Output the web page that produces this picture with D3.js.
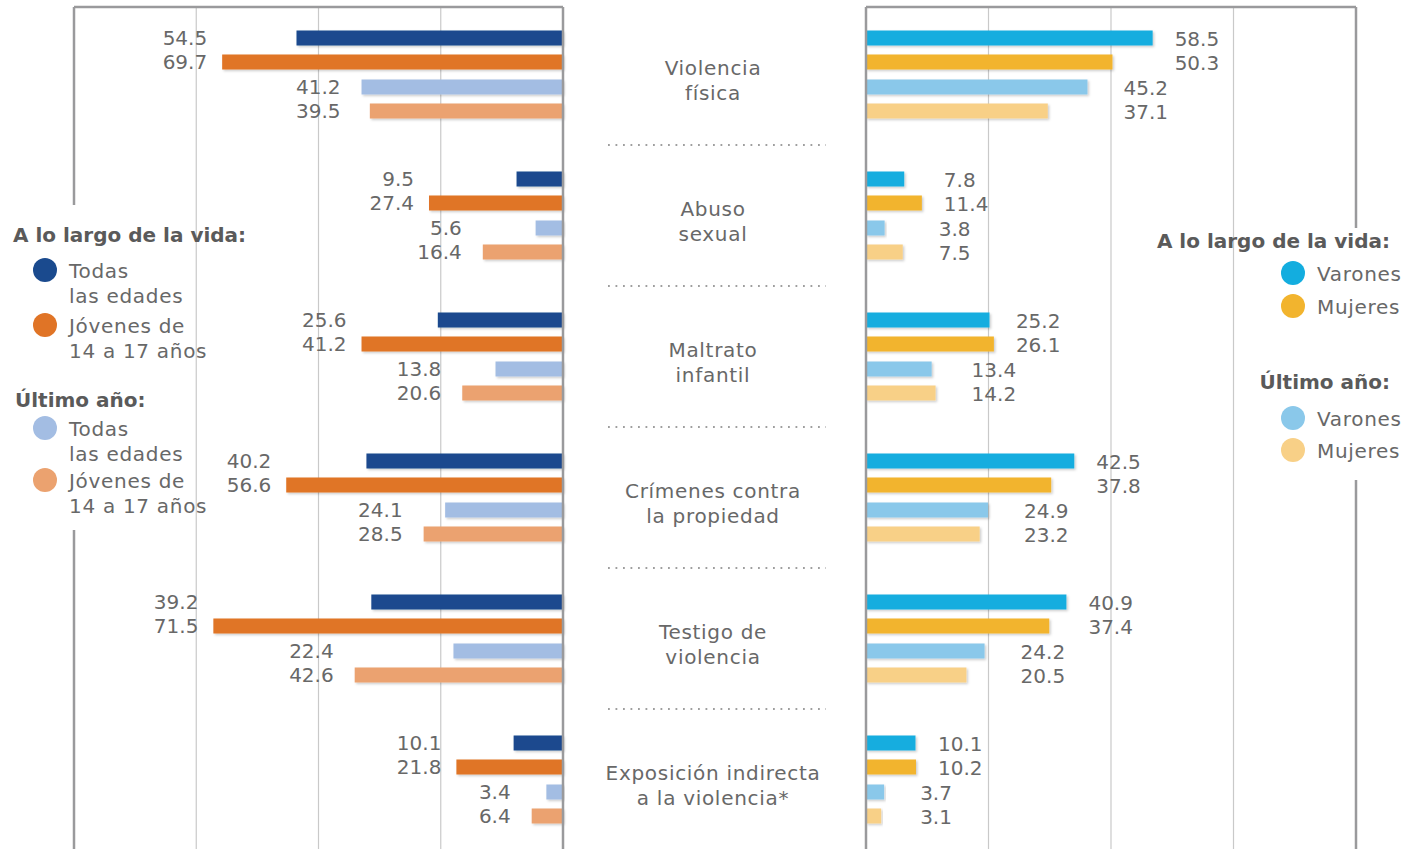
<!DOCTYPE html>
<html>
<head>
<meta charset="utf-8">
<script src="https://cdn.jsdelivr.net/npm/d3@7"></script>
<style>
	body { margin: 0; background: #fff; }
	svg text { font-family: "DejaVu Sans", sans-serif; fill: #686868; }
	svg text.word { letter-spacing: 0.7px; }
</style>
</head>
<body>
<svg id="chart" width="1418" height="849"></svg>
<script>
// categories (two lines each, shown in the middle column)
const categories = [
	[ 'Violencia', 'física' ],
	[ 'Abuso', 'sexual' ],
	[ 'Maltrato', 'infantil' ],
	[ 'Crímenes contra', 'la propiedad' ],
	[ 'Testigo de', 'violencia' ],
	[ 'Exposición indirecta', 'a la violencia*' ]
];

// left panel: por edad
const vidaTodas   = [ 54.5, 9.5, 25.6, 40.2, 39.2, 10.1 ];
const vidaJovenes = [ 69.7, 27.4, 41.2, 56.6, 71.5, 21.8 ];
const anioTodas   = [ 41.2, 5.6, 13.8, 24.1, 22.4, 3.4 ];
const anioJovenes = [ 39.5, 16.4, 20.6, 28.5, 42.6, 6.4 ];

// right panel: por sexo
const vidaVarones = [ 58.5, 7.8, 25.2, 42.5, 40.9, 10.1 ];
const vidaMujeres = [ 50.3, 11.4, 26.1, 37.8, 37.4, 10.2 ];
const anioVarones = [ 45.2, 3.8, 13.4, 24.9, 24.2, 3.7 ];
const anioMujeres = [ 37.1, 7.5, 14.2, 23.2, 20.5, 3.1 ];

const gridTicks = [ 0, 25, 50, 75, 100 ];

const leftSeries = [
	{ values: vidaTodas, color: '#1a4a8e' },
	{ values: vidaJovenes, color: '#e07426' },
	{ values: anioTodas, color: '#a3bde3' },
	{ values: anioJovenes, color: '#eba26f' }
];
const rightSeries = [
	{ values: vidaVarones, color: '#13addf' },
	{ values: vidaMujeres, color: '#f2b42e' },
	{ values: anioVarones, color: '#8ac8ea' },
	{ values: anioMujeres, color: '#f8d087' }
];

const svg = d3.select('#chart');
const yTop = 7, yBottom = 849;

let xL = d3.scaleLinear().domain([ 0, 100 ]).range([ 563, 74 ]);
let xR = d3.scaleLinear().domain([ 0, 100 ]).range([ 866, 1356 ]);
let yGroup = d3.scaleLinear().domain([ 0, 5 ]).range([ 38, 743 ]);
// position of a bar inside its group: pair (vida / año) and member
function barY(g, s) {
	let pair = Math.floor(s / 2), member = s % 2;
	return yGroup(g) + pair * 49 + member * 24;
}

// shadow for bars
let defs = svg.append('defs');
defs.append('filter')
	.attr('id', 'shadow')
	.attr('x', '-5%').attr('y', '-30%').attr('width', '115%').attr('height', '170%')
	.append('feDropShadow')
	.attr('dx', 1.5).attr('dy', 1.5).attr('stdDeviation', 1)
	.attr('flood-color', '#000').attr('flood-opacity', 0.2);

// grid lines (inner)
let grid = svg.append('g');
grid.selectAll('.gl').data(gridTicks.slice(1, 4)).enter().append('line')
	.attr('x1', d => xL(d)).attr('x2', d => xL(d))
	.attr('y1', yTop).attr('y2', yBottom)
	.style('stroke', '#c9c9c9').style('stroke-width', 1.2);
grid.selectAll('.gr').data(gridTicks.slice(1, 4)).enter().append('line')
	.attr('x1', d => xR(d)).attr('x2', d => xR(d))
	.attr('y1', yTop).attr('y2', yBottom)
	.style('stroke', '#c9c9c9').style('stroke-width', 1.2);

// frames
function frameLine(x1, y1, x2, y2) {
	svg.append('line')
		.attr('x1', x1).attr('y1', y1).attr('x2', x2).attr('y2', y2)
		.style('stroke', '#9a9a9c').style('stroke-width', 2.5);
}
frameLine(xL(100), yTop, xL(0), yTop);
frameLine(xL(100), yTop, xL(100), 205);
frameLine(xL(100), 530, xL(100), yBottom);
frameLine(xR(0), yTop, xR(100), yTop);
frameLine(xR(100), yTop, xR(100), 228);
frameLine(xR(100), 480, xR(100), yBottom);

// bars
function drawPanel(series, x, side) {
	let g = svg.append('g');
	series.forEach(function(s, si) {
		g.selectAll('.bar-' + side + si).data(s.values).enter().append('rect')
			.attr('x', d => Math.min(x(0), x(d)))
			.attr('y', (d, i) => barY(i, si) - 7.5)
			.attr('width', d => Math.abs(x(d) - x(0)))
			.attr('height', 15)
			.style('fill', s.color)
			.attr('filter', 'url(#shadow)');
	});
	// value labels
	series.forEach(function(s, si) {
		let pair = Math.floor(si / 2);
		let other = series[pair * 2 + (1 - si % 2)].values;
		g.selectAll('.lab-' + side + si).data(s.values).enter().append('text')
			.attr('x', function(d, i) {
				let m = Math.max(d, other[i]);
				return side == 'L' ? x(m) - (15 + pair * 6) : x(m) + (22 + pair * 14);
			})
			.attr('y', (d, i) => barY(i, si) + (side == 'R' ? 1 : 0))
			.attr('dy', '0.36em')
			.style('text-anchor', side == 'L' ? 'end' : 'start')
			.style('font-size', '20px')
			.text(d => d.toFixed(1));
	});
}
drawPanel(leftSeries, xL, 'L');
drawPanel(rightSeries, xR, 'R');
// frame edges next to the bars
frameLine(xL(0), yTop, xL(0), yBottom);
frameLine(xR(0), yTop, xR(0), yBottom);

// category labels and dotted separators
let mid = svg.append('g');
categories.forEach(function(c, i) {
	let cy = yGroup(i) + 36.5;
	c.forEach(function(line, k) {
		mid.append('text')
			.attr('class', 'word')
			.attr('x', 713).attr('y', cy - 7 + k * 25)
			.attr('dy', '0.36em')
			.style('text-anchor', 'middle')
			.style('font-size', '20px')
			.text(line);
	});
	if (i < categories.length - 1) {
		mid.append('line')
			.attr('x1', 608).attr('x2', 826)
			.attr('y1', yGroup(i) + 107).attr('y2', yGroup(i) + 107)
			.style('stroke', '#9e9e9e')
			.style('stroke-width', 1.8)
			.style('stroke-dasharray', '1.8,5.7');
	}
});

// legends
function legendTitle(x, y, text, anchor) {
	svg.append('text')
		.attr('x', x).attr('y', y)
		.attr('dy', '0.36em')
		.style('text-anchor', anchor)
		.style('font-size', '20px')
		.style('font-weight', 'bold')
		.style('fill', '#5a5a5a')
		.text(text);
}
function legendItem(cx, cy, color, lines, tx) {
	svg.append('circle')
		.attr('cx', cx).attr('cy', cy).attr('r', 12)
		.style('fill', color);
	lines.forEach(function(l, k) {
		svg.append('text')
			.attr('class', 'word')
			.attr('x', tx).attr('y', cy + 1 + k * 25)
			.attr('dy', '0.36em')
			.style('font-size', '20px')
			.text(l);
	});
}
legendTitle(13, 235, 'A lo largo de la vida:', 'start');
legendItem(45, 270, leftSeries[0].color, [ 'Todas', 'las edades' ], 69);
legendItem(45, 325, leftSeries[1].color, [ 'Jóvenes de', '14 a 17 años' ], 69);
legendTitle(15, 400, 'Último año:', 'start');
legendItem(45, 428, leftSeries[2].color, [ 'Todas', 'las edades' ], 69);
legendItem(45, 480, leftSeries[3].color, [ 'Jóvenes de', '14 a 17 años' ], 69);

legendTitle(1390, 241, 'A lo largo de la vida:', 'end');
legendItem(1293, 273, rightSeries[0].color, [ 'Varones' ], 1317);
legendItem(1293, 306, rightSeries[1].color, [ 'Mujeres' ], 1317);
legendTitle(1390, 382, 'Último año:', 'end');
legendItem(1293, 418, rightSeries[2].color, [ 'Varones' ], 1317);
legendItem(1293, 450, rightSeries[3].color, [ 'Mujeres' ], 1317);
</script>
</body>
</html>
